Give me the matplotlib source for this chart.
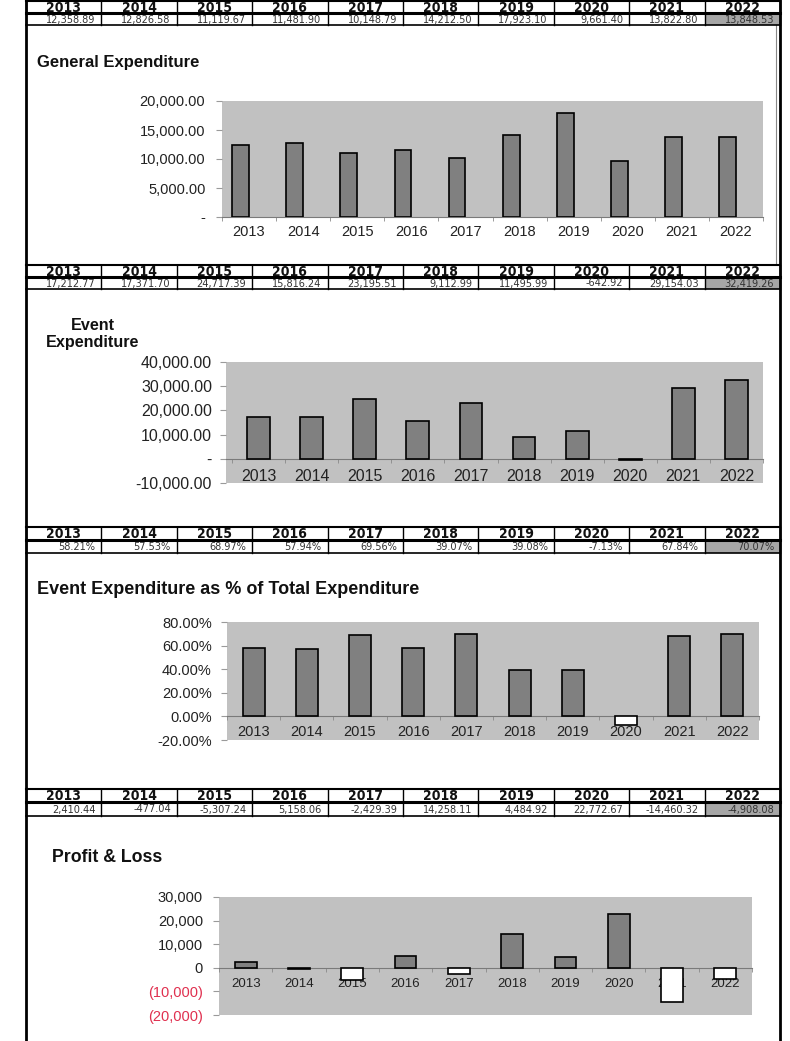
import matplotlib
matplotlib.use('Agg')
import matplotlib.pyplot as plt
from matplotlib.patches import Rectangle
from matplotlib.ticker import FixedLocator, FuncFormatter
from matplotlib.font_manager import FontProperties, findfont
import numpy as np

plt.rcParams['font.family'] = ['Liberation Sans', 'DejaVu Sans']

years = ['2013', '2014', '2015', '2016', '2017', '2018', '2019', '2020', '2021', '2022']
general = [12358.89, 12826.58, 11119.67, 11481.90, 10148.79, 14212.50, 17923.10, 9661.40, 13822.80, 13848.53]
event = [17212.77, 17371.70, 24717.39, 15816.24, 23195.51, 9112.99, 11495.99, -642.92, 29154.03, 32419.26]
event_pct = [58.21, 57.53, 68.97, 57.94, 69.56, 39.07, 39.08, -7.13, 67.84, 70.07]
profit_loss = [2410.44, -477.04, -5307.24, 5158.06, -2429.39, 14258.11, 4484.92, 22772.67, -14460.32, -4908.08]

W, H = 790, 1041
fig = plt.figure(figsize=(W / 100, H / 100), dpi=100)
fig.patch.set_facecolor('white')


def box(x0, y0, x1, y1):
    # pixel box -> figure fraction
    return [x0 / W, 1 - y1 / H, (x1 - x0) / W, (y1 - y0) / H]


# narrow font for the tables if there is one
cond = findfont(FontProperties(family='DejaVu Sans', stretch='condensed', weight='bold'))
if 'Condensed' in cond:
    table_font = {'family': 'DejaVu Sans', 'stretch': 'condensed'}
    head_size, val_size = 10, 7.8
else:
    table_font = {'family': 'Liberation Sans'}
    head_size, val_size = 9.5, 7.5

# overlay for tables and frame
ax0 = fig.add_axes([0, 0, 1, 1])
ax0.set_xlim(0, W)
ax0.set_ylim(H, 0)
ax0.axis('off')

ax0.plot([26, 26], [0, H], color='k', lw=2)
ax0.plot([780, 780], [0, H], color='k', lw=2)
ax0.plot([776, 776], [25, 263], color='#888888', lw=0.8)

col_x = [26 + i * 75.4 for i in range(11)]


def draw_table(top, mid, bot, vals, fmt):
    ax0.add_patch(Rectangle((col_x[9], mid), col_x[10] - col_x[9], bot - mid,
                            facecolor='#a6a6a6', edgecolor='none'))
    ax0.plot([26, 780], [top, top], color='k', lw=1.5)
    ax0.plot([26, 780], [mid, mid], color='k', lw=2.2)
    ax0.plot([26, 780], [bot, bot], color='k', lw=1.2)
    for x in col_x:
        ax0.plot([x, x], [top, bot], color='k', lw=1)
    for i in range(10):
        ax0.text((col_x[i] + col_x[i + 1]) / 2, (top + mid) / 2 + 0.5, years[i],
                 ha='center', va='center', fontsize=head_size, fontweight='bold',
                 color='#111111', **table_font)
        ax0.text(col_x[i + 1] - 6, (mid + bot) / 2 + 0.5, fmt(vals[i]),
                 ha='right', va='center', fontsize=val_size, color='#333333', **table_font)


money = lambda v: '{:,.2f}'.format(v)
pct = lambda v: '{:.2f}%'.format(v)

draw_table(1, 13, 25, general, money)
draw_table(265, 277, 289, event, money)
draw_table(527, 540, 553, event_pct, pct)
draw_table(789, 802, 816, profit_loss, money)

bg = '#c1c1c1'
bar_col = '#808080'


def bar_chart(rect, vals, ylim, step, width, yfmt, ysize, xsize, ypad, xpad,
              neg_red=False, left_edge=False, xmin=-0.5):
    ax = fig.add_axes(box(*rect))
    ax.set_facecolor(bg)
    x = np.arange(len(vals))
    colors = [bar_col if v >= 0 else 'white' for v in vals]
    if left_edge:
        # first of two series, sits left of the category centre
        ax.bar(x, vals, width=-width, align='edge', color=colors, edgecolor='black',
               linewidth=1.2, zorder=3)
    else:
        ax.bar(x, vals, width=width, color=colors, edgecolor='black', linewidth=1.2, zorder=3)
    ax.set_xlim(xmin, len(vals) - 0.5)
    ax.set_ylim(*ylim)
    for s in ['top', 'right', 'left']:
        ax.spines[s].set_visible(False)
    ax.spines['bottom'].set_position(('data', 0))
    ax.spines['bottom'].set_color('#7a7a7a')
    ax.spines['bottom'].set_zorder(2)
    ax.set_xticks(x)
    ax.set_xticklabels(years)
    ax.xaxis.set_minor_locator(FixedLocator(np.arange(-0.5, len(vals), 1)))
    ax.tick_params(axis='x', which='major', length=0, pad=xpad, labelsize=xsize, labelcolor='#222222')
    ax.tick_params(axis='x', which='minor', length=3, color='#8a8a8a', direction='out')
    ax.set_yticks(np.arange(ylim[0], ylim[1] + 1, step))
    ax.yaxis.set_major_formatter(FuncFormatter(lambda v, p: yfmt(v)))
    ax.tick_params(axis='y', length=4, color='#9a9a9a', pad=ypad, labelsize=ysize, labelcolor='#222222')
    if neg_red:
        for lab, v in zip(ax.get_yticklabels(), ax.get_yticks()):
            if v < 0:
                lab.set_color('#e0304f')
    return ax


def acct2(v):
    if abs(v) < 1e-9:
        return '-'
    return '{:,.2f}'.format(v)


def acct0(v):
    if v < 0:
        return '({:,.0f})'.format(-v)
    return '{:,.0f}'.format(v)


bar_chart((222, 101, 763, 217), general, (0, 20000), 5000, 0.31, acct2, 10.5, 10.5, 8, 6,
          left_edge=True)
fig.text(37 / W, 1 - 62 / H, 'General Expenditure', fontsize=12, fontweight='bold',
         va='center', ha='left', color='#111111')

bar_chart((226, 362, 763, 483), event, (-10000, 40000), 10000, 0.43, acct2, 11.5, 11.5, 6, 7,
          xmin=-0.5 - 6 / 53.1)
fig.text(93 / W, 1 - 334 / H, 'Event\nExpenditure', fontsize=11.6, fontweight='bold',
         va='center', ha='center', color='#111111', linespacing=1.25)

bar_chart((227, 622, 759, 740), event_pct, (-20, 80), 20, 0.41, lambda v: '{:.2f}%'.format(v),
          10.5, 10.5, 7, 6.5)
fig.text(37 / W, 1 - 589 / H, 'Event Expenditure as % of Total Expenditure', fontsize=13,
         fontweight='bold', va='center', ha='left', color='#111111')

bar_chart((219, 897, 752, 1015), profit_loss, (-20000, 30000), 10000, 0.41, acct0, 10.5, 9.5,
          7.5, 7.5, neg_red=True)
fig.text(52 / W, 1 - 857 / H, 'Profit & Loss', fontsize=12.8, fontweight='bold',
         va='center', ha='left', color='#111111')

plt.savefig('out.png', dpi=100)
plt.close()
